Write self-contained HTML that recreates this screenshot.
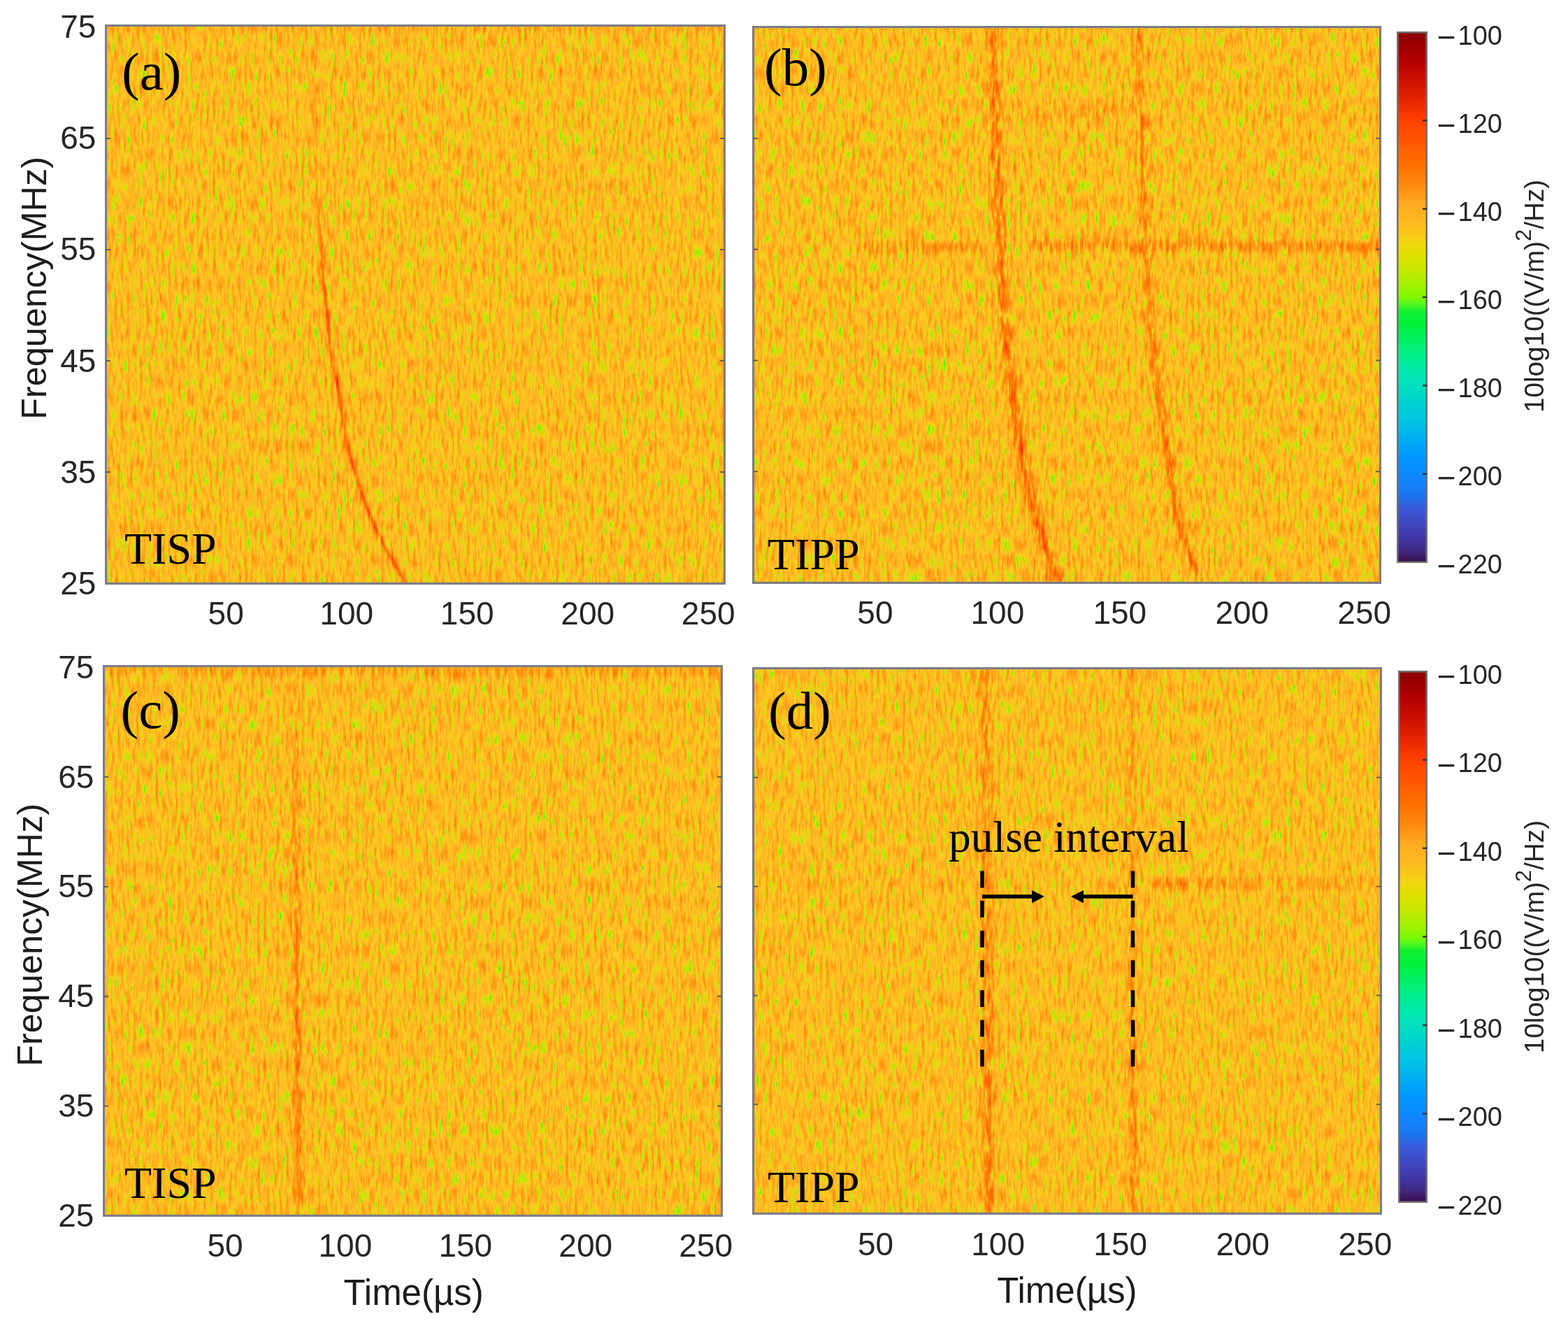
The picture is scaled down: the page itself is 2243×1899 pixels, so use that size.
<!DOCTYPE html>
<html><head><meta charset="utf-8"><title>Spectrograms</title>
<style>
html,body{margin:0;padding:0;background:#fff;}
body{width:2243px;height:1899px;overflow:hidden;position:relative;}
svg{position:absolute;left:0;top:0;display:block;}
.tk{font-family:"Liberation Sans",Arial,sans-serif;font-size:46px;fill:#262626;}
.cb{font-family:"Liberation Sans",Arial,sans-serif;font-size:38px;fill:#262626;}
.cb .mn{font-size:46px;}
.al{font-family:"Liberation Sans",Arial,sans-serif;font-size:50.5px;fill:#1c1c1c;}
.at{font-size:51px;}
.cl{font-family:"Liberation Sans",Arial,sans-serif;font-size:38.7px;fill:#262626;}
.pl{font-family:"Liberation Serif","Times New Roman",serif;font-size:77px;fill:#000;}
.tl{font-family:"Liberation Serif","Times New Roman",serif;font-size:64px;fill:#000;}
.pi{font-size:63.5px;}
</style></head><body>
<svg width="2243" height="1899" viewBox="0 0 2243 1899">
<defs>
<filter id="b15" filterUnits="userSpaceOnUse" x="0" y="0" width="2243" height="1899" color-interpolation-filters="sRGB"><feGaussianBlur stdDeviation="1.5"/></filter>
<filter id="b2" filterUnits="userSpaceOnUse" x="0" y="0" width="2243" height="1899" color-interpolation-filters="sRGB"><feGaussianBlur stdDeviation="2"/></filter>
<filter id="b3" filterUnits="userSpaceOnUse" x="0" y="0" width="2243" height="1899" color-interpolation-filters="sRGB"><feGaussianBlur stdDeviation="3"/></filter>
<filter id="b4" filterUnits="userSpaceOnUse" x="0" y="0" width="2243" height="1899" color-interpolation-filters="sRGB"><feGaussianBlur stdDeviation="4"/></filter>
<filter id="b25" filterUnits="userSpaceOnUse" x="0" y="0" width="2243" height="1899" color-interpolation-filters="sRGB"><feGaussianBlur stdDeviation="2.5"/></filter>
<filter id="b5" filterUnits="userSpaceOnUse" x="0" y="0" width="2243" height="1899" color-interpolation-filters="sRGB"><feGaussianBlur stdDeviation="5"/></filter>
<filter id="fa" filterUnits="userSpaceOnUse" x="150" y="35" width="888" height="801" color-interpolation-filters="sRGB">
<feTurbulence type="fractalNoise" baseFrequency="0.22 0.043" numOctaves="3" seed="3" result="n0"/>
<feColorMatrix in="n0" type="matrix" values="1 0 0 0 0 1 0 0 0 0 1 0 0 0 0 0 0 0 0 1" result="n1"/>
<feComponentTransfer in="n1" result="u"><feFuncR type="table" tableValues="0.1583 0.1583 0.1583 0.1583 0.1583 0.1583 0.1583 0.1583 0.1583 0.1583 0.1583 0.1583 0.1726 0.1964 0.2193 0.2412 0.2622 0.2823 0.3014 0.3197 0.3372 0.3538 0.3696 0.3847 0.3990 0.4127 0.4257 0.4381 0.4499 0.4611 0.4719 0.4821 0.4910 0.4990 0.5071 0.5151 0.5232 0.5312 0.5393 0.5473 0.5553 0.5634 0.5714 0.5795 0.5875 0.5956 0.6036 0.6116 0.6197 0.6277 0.6358 0.6438 0.6519 0.6599 0.6679 0.6760 0.6840 0.6921 0.7001 0.7082 0.7162 0.7242 0.7323 0.7403"/><feFuncG type="table" tableValues="0.1583 0.1583 0.1583 0.1583 0.1583 0.1583 0.1583 0.1583 0.1583 0.1583 0.1583 0.1583 0.1726 0.1964 0.2193 0.2412 0.2622 0.2823 0.3014 0.3197 0.3372 0.3538 0.3696 0.3847 0.3990 0.4127 0.4257 0.4381 0.4499 0.4611 0.4719 0.4821 0.4910 0.4990 0.5071 0.5151 0.5232 0.5312 0.5393 0.5473 0.5553 0.5634 0.5714 0.5795 0.5875 0.5956 0.6036 0.6116 0.6197 0.6277 0.6358 0.6438 0.6519 0.6599 0.6679 0.6760 0.6840 0.6921 0.7001 0.7082 0.7162 0.7242 0.7323 0.7403"/><feFuncB type="table" tableValues="0.1583 0.1583 0.1583 0.1583 0.1583 0.1583 0.1583 0.1583 0.1583 0.1583 0.1583 0.1583 0.1726 0.1964 0.2193 0.2412 0.2622 0.2823 0.3014 0.3197 0.3372 0.3538 0.3696 0.3847 0.3990 0.4127 0.4257 0.4381 0.4499 0.4611 0.4719 0.4821 0.4910 0.4990 0.5071 0.5151 0.5232 0.5312 0.5393 0.5473 0.5553 0.5634 0.5714 0.5795 0.5875 0.5956 0.6036 0.6116 0.6197 0.6277 0.6358 0.6438 0.6519 0.6599 0.6679 0.6760 0.6840 0.6921 0.7001 0.7082 0.7162 0.7242 0.7323 0.7403"/></feComponentTransfer>
<feComposite in="u" in2="SourceGraphic" operator="arithmetic" k1="0" k2="1" k3="1.0" k4="0" result="v"/>
<feComponentTransfer in="v"><feFuncR type="table" tableValues="0.0000 0.0000 0.0000 0.0000 0.0000 0.0224 0.0448 0.2196 0.4034 0.4370 0.4706 0.5145 0.5584 0.6024 0.6463 0.6902 0.7263 0.7624 0.7984 0.8345 0.8706 0.8941 0.9176 0.9412 0.9647 0.9882 0.9906 0.9929 0.9953 0.9976 1.0000 1.0000 1.0000 1.0000 1.0000 1.0000 1.0000 1.0000 1.0000 1.0000 1.0000 1.0000 1.0000 1.0000 1.0000 1.0000 1.0000 1.0000 1.0000 1.0000 1.0000 0.9867 0.9733 0.9600 0.9467 0.9333 0.9067 0.8800 0.8533 0.8267 0.8000"/><feFuncG type="table" tableValues="0.8993 0.9059 0.9124 0.9190 0.9255 0.9283 0.9311 0.9373 0.9412 0.9412 0.9412 0.9380 0.9349 0.9318 0.9286 0.9255 0.9129 0.9004 0.8878 0.8753 0.8627 0.8502 0.8376 0.8251 0.8125 0.8000 0.7843 0.7686 0.7529 0.7373 0.7216 0.7027 0.6839 0.6651 0.6463 0.6275 0.6055 0.5835 0.5616 0.5396 0.5176 0.4925 0.4675 0.4424 0.4173 0.3922 0.3655 0.3388 0.3122 0.2855 0.2588 0.2384 0.2180 0.1976 0.1773 0.1569 0.1380 0.1192 0.1004 0.0816 0.0627"/><feFuncB type="table" tableValues="0.4601 0.4235 0.3869 0.3503 0.3137 0.2717 0.2297 0.0980 0.0000 0.0000 0.0000 0.0000 0.0000 0.0000 0.0000 0.0000 0.0078 0.0157 0.0235 0.0314 0.0392 0.0580 0.0769 0.0957 0.1145 0.1333 0.1349 0.1365 0.1380 0.1396 0.1412 0.1302 0.1192 0.1082 0.0973 0.0863 0.0769 0.0675 0.0580 0.0486 0.0392 0.0314 0.0235 0.0157 0.0078 0.0000 0.0000 0.0000 0.0000 0.0000 0.0000 0.0000 0.0000 0.0000 0.0000 0.0000 0.0000 0.0000 0.0000 0.0000 0.0000"/><feFuncA type="linear" slope="0" intercept="1"/></feComponentTransfer>
</filter>
<filter id="fb" filterUnits="userSpaceOnUse" x="1076" y="37" width="900" height="798" color-interpolation-filters="sRGB">
<feTurbulence type="fractalNoise" baseFrequency="0.22 0.043" numOctaves="3" seed="11" result="n0"/>
<feColorMatrix in="n0" type="matrix" values="1 0 0 0 0 1 0 0 0 0 1 0 0 0 0 0 0 0 0 1" result="n1"/>
<feComponentTransfer in="n1" result="u"><feFuncR type="table" tableValues="0.1583 0.1583 0.1583 0.1583 0.1583 0.1583 0.1583 0.1583 0.1583 0.1583 0.1583 0.1583 0.1726 0.1964 0.2193 0.2412 0.2622 0.2823 0.3014 0.3197 0.3372 0.3538 0.3696 0.3847 0.3990 0.4127 0.4257 0.4381 0.4499 0.4611 0.4719 0.4821 0.4910 0.4990 0.5071 0.5151 0.5232 0.5312 0.5393 0.5473 0.5553 0.5634 0.5714 0.5795 0.5875 0.5956 0.6036 0.6116 0.6197 0.6277 0.6358 0.6438 0.6519 0.6599 0.6679 0.6760 0.6840 0.6921 0.7001 0.7082 0.7162 0.7242 0.7323 0.7403"/><feFuncG type="table" tableValues="0.1583 0.1583 0.1583 0.1583 0.1583 0.1583 0.1583 0.1583 0.1583 0.1583 0.1583 0.1583 0.1726 0.1964 0.2193 0.2412 0.2622 0.2823 0.3014 0.3197 0.3372 0.3538 0.3696 0.3847 0.3990 0.4127 0.4257 0.4381 0.4499 0.4611 0.4719 0.4821 0.4910 0.4990 0.5071 0.5151 0.5232 0.5312 0.5393 0.5473 0.5553 0.5634 0.5714 0.5795 0.5875 0.5956 0.6036 0.6116 0.6197 0.6277 0.6358 0.6438 0.6519 0.6599 0.6679 0.6760 0.6840 0.6921 0.7001 0.7082 0.7162 0.7242 0.7323 0.7403"/><feFuncB type="table" tableValues="0.1583 0.1583 0.1583 0.1583 0.1583 0.1583 0.1583 0.1583 0.1583 0.1583 0.1583 0.1583 0.1726 0.1964 0.2193 0.2412 0.2622 0.2823 0.3014 0.3197 0.3372 0.3538 0.3696 0.3847 0.3990 0.4127 0.4257 0.4381 0.4499 0.4611 0.4719 0.4821 0.4910 0.4990 0.5071 0.5151 0.5232 0.5312 0.5393 0.5473 0.5553 0.5634 0.5714 0.5795 0.5875 0.5956 0.6036 0.6116 0.6197 0.6277 0.6358 0.6438 0.6519 0.6599 0.6679 0.6760 0.6840 0.6921 0.7001 0.7082 0.7162 0.7242 0.7323 0.7403"/></feComponentTransfer>
<feComposite in="u" in2="SourceGraphic" operator="arithmetic" k1="0" k2="1" k3="1.0" k4="0" result="v"/>
<feComponentTransfer in="v"><feFuncR type="table" tableValues="0.0000 0.0000 0.0000 0.0000 0.0000 0.0224 0.0448 0.2196 0.4034 0.4370 0.4706 0.5145 0.5584 0.6024 0.6463 0.6902 0.7263 0.7624 0.7984 0.8345 0.8706 0.8941 0.9176 0.9412 0.9647 0.9882 0.9906 0.9929 0.9953 0.9976 1.0000 1.0000 1.0000 1.0000 1.0000 1.0000 1.0000 1.0000 1.0000 1.0000 1.0000 1.0000 1.0000 1.0000 1.0000 1.0000 1.0000 1.0000 1.0000 1.0000 1.0000 0.9867 0.9733 0.9600 0.9467 0.9333 0.9067 0.8800 0.8533 0.8267 0.8000"/><feFuncG type="table" tableValues="0.8993 0.9059 0.9124 0.9190 0.9255 0.9283 0.9311 0.9373 0.9412 0.9412 0.9412 0.9380 0.9349 0.9318 0.9286 0.9255 0.9129 0.9004 0.8878 0.8753 0.8627 0.8502 0.8376 0.8251 0.8125 0.8000 0.7843 0.7686 0.7529 0.7373 0.7216 0.7027 0.6839 0.6651 0.6463 0.6275 0.6055 0.5835 0.5616 0.5396 0.5176 0.4925 0.4675 0.4424 0.4173 0.3922 0.3655 0.3388 0.3122 0.2855 0.2588 0.2384 0.2180 0.1976 0.1773 0.1569 0.1380 0.1192 0.1004 0.0816 0.0627"/><feFuncB type="table" tableValues="0.4601 0.4235 0.3869 0.3503 0.3137 0.2717 0.2297 0.0980 0.0000 0.0000 0.0000 0.0000 0.0000 0.0000 0.0000 0.0000 0.0078 0.0157 0.0235 0.0314 0.0392 0.0580 0.0769 0.0957 0.1145 0.1333 0.1349 0.1365 0.1380 0.1396 0.1412 0.1302 0.1192 0.1082 0.0973 0.0863 0.0769 0.0675 0.0580 0.0486 0.0392 0.0314 0.0235 0.0157 0.0078 0.0000 0.0000 0.0000 0.0000 0.0000 0.0000 0.0000 0.0000 0.0000 0.0000 0.0000 0.0000 0.0000 0.0000 0.0000 0.0000"/><feFuncA type="linear" slope="0" intercept="1"/></feComponentTransfer>
</filter>
<filter id="fc" filterUnits="userSpaceOnUse" x="147" y="951" width="887" height="789" color-interpolation-filters="sRGB">
<feTurbulence type="fractalNoise" baseFrequency="0.22 0.043" numOctaves="3" seed="17" result="n0"/>
<feColorMatrix in="n0" type="matrix" values="1 0 0 0 0 1 0 0 0 0 1 0 0 0 0 0 0 0 0 1" result="n1"/>
<feComponentTransfer in="n1" result="u"><feFuncR type="table" tableValues="0.1583 0.1583 0.1583 0.1583 0.1583 0.1583 0.1583 0.1583 0.1583 0.1583 0.1583 0.1583 0.1726 0.1964 0.2193 0.2412 0.2622 0.2823 0.3014 0.3197 0.3372 0.3538 0.3696 0.3847 0.3990 0.4127 0.4257 0.4381 0.4499 0.4611 0.4719 0.4821 0.4910 0.4990 0.5071 0.5151 0.5232 0.5312 0.5393 0.5473 0.5553 0.5634 0.5714 0.5795 0.5875 0.5956 0.6036 0.6116 0.6197 0.6277 0.6358 0.6438 0.6519 0.6599 0.6679 0.6760 0.6840 0.6921 0.7001 0.7082 0.7162 0.7242 0.7323 0.7403"/><feFuncG type="table" tableValues="0.1583 0.1583 0.1583 0.1583 0.1583 0.1583 0.1583 0.1583 0.1583 0.1583 0.1583 0.1583 0.1726 0.1964 0.2193 0.2412 0.2622 0.2823 0.3014 0.3197 0.3372 0.3538 0.3696 0.3847 0.3990 0.4127 0.4257 0.4381 0.4499 0.4611 0.4719 0.4821 0.4910 0.4990 0.5071 0.5151 0.5232 0.5312 0.5393 0.5473 0.5553 0.5634 0.5714 0.5795 0.5875 0.5956 0.6036 0.6116 0.6197 0.6277 0.6358 0.6438 0.6519 0.6599 0.6679 0.6760 0.6840 0.6921 0.7001 0.7082 0.7162 0.7242 0.7323 0.7403"/><feFuncB type="table" tableValues="0.1583 0.1583 0.1583 0.1583 0.1583 0.1583 0.1583 0.1583 0.1583 0.1583 0.1583 0.1583 0.1726 0.1964 0.2193 0.2412 0.2622 0.2823 0.3014 0.3197 0.3372 0.3538 0.3696 0.3847 0.3990 0.4127 0.4257 0.4381 0.4499 0.4611 0.4719 0.4821 0.4910 0.4990 0.5071 0.5151 0.5232 0.5312 0.5393 0.5473 0.5553 0.5634 0.5714 0.5795 0.5875 0.5956 0.6036 0.6116 0.6197 0.6277 0.6358 0.6438 0.6519 0.6599 0.6679 0.6760 0.6840 0.6921 0.7001 0.7082 0.7162 0.7242 0.7323 0.7403"/></feComponentTransfer>
<feComposite in="u" in2="SourceGraphic" operator="arithmetic" k1="0" k2="1" k3="1.0" k4="0" result="v"/>
<feComponentTransfer in="v"><feFuncR type="table" tableValues="0.0000 0.0000 0.0000 0.0000 0.0000 0.0224 0.0448 0.2196 0.4034 0.4370 0.4706 0.5145 0.5584 0.6024 0.6463 0.6902 0.7263 0.7624 0.7984 0.8345 0.8706 0.8941 0.9176 0.9412 0.9647 0.9882 0.9906 0.9929 0.9953 0.9976 1.0000 1.0000 1.0000 1.0000 1.0000 1.0000 1.0000 1.0000 1.0000 1.0000 1.0000 1.0000 1.0000 1.0000 1.0000 1.0000 1.0000 1.0000 1.0000 1.0000 1.0000 0.9867 0.9733 0.9600 0.9467 0.9333 0.9067 0.8800 0.8533 0.8267 0.8000"/><feFuncG type="table" tableValues="0.8993 0.9059 0.9124 0.9190 0.9255 0.9283 0.9311 0.9373 0.9412 0.9412 0.9412 0.9380 0.9349 0.9318 0.9286 0.9255 0.9129 0.9004 0.8878 0.8753 0.8627 0.8502 0.8376 0.8251 0.8125 0.8000 0.7843 0.7686 0.7529 0.7373 0.7216 0.7027 0.6839 0.6651 0.6463 0.6275 0.6055 0.5835 0.5616 0.5396 0.5176 0.4925 0.4675 0.4424 0.4173 0.3922 0.3655 0.3388 0.3122 0.2855 0.2588 0.2384 0.2180 0.1976 0.1773 0.1569 0.1380 0.1192 0.1004 0.0816 0.0627"/><feFuncB type="table" tableValues="0.4601 0.4235 0.3869 0.3503 0.3137 0.2717 0.2297 0.0980 0.0000 0.0000 0.0000 0.0000 0.0000 0.0000 0.0000 0.0000 0.0078 0.0157 0.0235 0.0314 0.0392 0.0580 0.0769 0.0957 0.1145 0.1333 0.1349 0.1365 0.1380 0.1396 0.1412 0.1302 0.1192 0.1082 0.0973 0.0863 0.0769 0.0675 0.0580 0.0486 0.0392 0.0314 0.0235 0.0157 0.0078 0.0000 0.0000 0.0000 0.0000 0.0000 0.0000 0.0000 0.0000 0.0000 0.0000 0.0000 0.0000 0.0000 0.0000 0.0000 0.0000"/><feFuncA type="linear" slope="0" intercept="1"/></feComponentTransfer>
</filter>
<filter id="fd" filterUnits="userSpaceOnUse" x="1076" y="954" width="901" height="783" color-interpolation-filters="sRGB">
<feTurbulence type="fractalNoise" baseFrequency="0.22 0.043" numOctaves="3" seed="29" result="n0"/>
<feColorMatrix in="n0" type="matrix" values="1 0 0 0 0 1 0 0 0 0 1 0 0 0 0 0 0 0 0 1" result="n1"/>
<feComponentTransfer in="n1" result="u"><feFuncR type="table" tableValues="0.1583 0.1583 0.1583 0.1583 0.1583 0.1583 0.1583 0.1583 0.1583 0.1583 0.1583 0.1583 0.1726 0.1964 0.2193 0.2412 0.2622 0.2823 0.3014 0.3197 0.3372 0.3538 0.3696 0.3847 0.3990 0.4127 0.4257 0.4381 0.4499 0.4611 0.4719 0.4821 0.4910 0.4990 0.5071 0.5151 0.5232 0.5312 0.5393 0.5473 0.5553 0.5634 0.5714 0.5795 0.5875 0.5956 0.6036 0.6116 0.6197 0.6277 0.6358 0.6438 0.6519 0.6599 0.6679 0.6760 0.6840 0.6921 0.7001 0.7082 0.7162 0.7242 0.7323 0.7403"/><feFuncG type="table" tableValues="0.1583 0.1583 0.1583 0.1583 0.1583 0.1583 0.1583 0.1583 0.1583 0.1583 0.1583 0.1583 0.1726 0.1964 0.2193 0.2412 0.2622 0.2823 0.3014 0.3197 0.3372 0.3538 0.3696 0.3847 0.3990 0.4127 0.4257 0.4381 0.4499 0.4611 0.4719 0.4821 0.4910 0.4990 0.5071 0.5151 0.5232 0.5312 0.5393 0.5473 0.5553 0.5634 0.5714 0.5795 0.5875 0.5956 0.6036 0.6116 0.6197 0.6277 0.6358 0.6438 0.6519 0.6599 0.6679 0.6760 0.6840 0.6921 0.7001 0.7082 0.7162 0.7242 0.7323 0.7403"/><feFuncB type="table" tableValues="0.1583 0.1583 0.1583 0.1583 0.1583 0.1583 0.1583 0.1583 0.1583 0.1583 0.1583 0.1583 0.1726 0.1964 0.2193 0.2412 0.2622 0.2823 0.3014 0.3197 0.3372 0.3538 0.3696 0.3847 0.3990 0.4127 0.4257 0.4381 0.4499 0.4611 0.4719 0.4821 0.4910 0.4990 0.5071 0.5151 0.5232 0.5312 0.5393 0.5473 0.5553 0.5634 0.5714 0.5795 0.5875 0.5956 0.6036 0.6116 0.6197 0.6277 0.6358 0.6438 0.6519 0.6599 0.6679 0.6760 0.6840 0.6921 0.7001 0.7082 0.7162 0.7242 0.7323 0.7403"/></feComponentTransfer>
<feComposite in="u" in2="SourceGraphic" operator="arithmetic" k1="0" k2="1" k3="1.0" k4="0" result="v"/>
<feComponentTransfer in="v"><feFuncR type="table" tableValues="0.0000 0.0000 0.0000 0.0000 0.0000 0.0224 0.0448 0.2196 0.4034 0.4370 0.4706 0.5145 0.5584 0.6024 0.6463 0.6902 0.7263 0.7624 0.7984 0.8345 0.8706 0.8941 0.9176 0.9412 0.9647 0.9882 0.9906 0.9929 0.9953 0.9976 1.0000 1.0000 1.0000 1.0000 1.0000 1.0000 1.0000 1.0000 1.0000 1.0000 1.0000 1.0000 1.0000 1.0000 1.0000 1.0000 1.0000 1.0000 1.0000 1.0000 1.0000 0.9867 0.9733 0.9600 0.9467 0.9333 0.9067 0.8800 0.8533 0.8267 0.8000"/><feFuncG type="table" tableValues="0.8993 0.9059 0.9124 0.9190 0.9255 0.9283 0.9311 0.9373 0.9412 0.9412 0.9412 0.9380 0.9349 0.9318 0.9286 0.9255 0.9129 0.9004 0.8878 0.8753 0.8627 0.8502 0.8376 0.8251 0.8125 0.8000 0.7843 0.7686 0.7529 0.7373 0.7216 0.7027 0.6839 0.6651 0.6463 0.6275 0.6055 0.5835 0.5616 0.5396 0.5176 0.4925 0.4675 0.4424 0.4173 0.3922 0.3655 0.3388 0.3122 0.2855 0.2588 0.2384 0.2180 0.1976 0.1773 0.1569 0.1380 0.1192 0.1004 0.0816 0.0627"/><feFuncB type="table" tableValues="0.4601 0.4235 0.3869 0.3503 0.3137 0.2717 0.2297 0.0980 0.0000 0.0000 0.0000 0.0000 0.0000 0.0000 0.0000 0.0000 0.0078 0.0157 0.0235 0.0314 0.0392 0.0580 0.0769 0.0957 0.1145 0.1333 0.1349 0.1365 0.1380 0.1396 0.1412 0.1302 0.1192 0.1082 0.0973 0.0863 0.0769 0.0675 0.0580 0.0486 0.0392 0.0314 0.0235 0.0157 0.0078 0.0000 0.0000 0.0000 0.0000 0.0000 0.0000 0.0000 0.0000 0.0000 0.0000 0.0000 0.0000 0.0000 0.0000 0.0000 0.0000"/><feFuncA type="linear" slope="0" intercept="1"/></feComponentTransfer>
</filter>
<linearGradient id="cbg" x1="0" y1="0" x2="0" y2="1"><stop offset="0.0000" stop-color="rgb(136,0,0)"/><stop offset="0.0500" stop-color="rgb(176,0,0)"/><stop offset="0.0917" stop-color="rgb(204,16,0)"/><stop offset="0.1333" stop-color="rgb(232,40,0)"/><stop offset="0.1667" stop-color="rgb(255,64,0)"/><stop offset="0.2083" stop-color="rgb(255,88,0)"/><stop offset="0.2500" stop-color="rgb(255,112,0)"/><stop offset="0.2917" stop-color="rgb(255,140,16)"/><stop offset="0.3225" stop-color="rgb(255,168,32)"/><stop offset="0.3550" stop-color="rgb(255,184,32)"/><stop offset="0.3817" stop-color="rgb(248,200,24)"/><stop offset="0.4017" stop-color="rgb(240,216,16)"/><stop offset="0.4208" stop-color="rgb(224,224,0)"/><stop offset="0.4475" stop-color="rgb(200,232,0)"/><stop offset="0.4742" stop-color="rgb(168,240,0)"/><stop offset="0.5000" stop-color="rgb(128,248,0)"/><stop offset="0.5133" stop-color="rgb(80,248,32)"/><stop offset="0.5267" stop-color="rgb(16,240,48)"/><stop offset="0.5500" stop-color="rgb(0,240,56)"/><stop offset="0.6000" stop-color="rgb(0,240,128)"/><stop offset="0.6417" stop-color="rgb(0,232,176)"/><stop offset="0.6833" stop-color="rgb(0,216,200)"/><stop offset="0.7250" stop-color="rgb(0,200,224)"/><stop offset="0.7625" stop-color="rgb(0,176,240)"/><stop offset="0.8000" stop-color="rgb(0,152,255)"/><stop offset="0.8333" stop-color="rgb(16,136,255)"/><stop offset="0.8708" stop-color="rgb(26,120,240)"/><stop offset="0.8975" stop-color="rgb(58,88,216)"/><stop offset="0.9250" stop-color="rgb(64,72,192)"/><stop offset="0.9500" stop-color="rgb(64,56,168)"/><stop offset="0.9783" stop-color="rgb(64,40,128)"/><stop offset="0.9917" stop-color="rgb(60,20,90)"/><stop offset="1.0000" stop-color="rgb(52,10,64)"/></linearGradient>
<linearGradient id="ga2" gradientUnits="userSpaceOnUse" x1="0" y1="37" x2="0" y2="834"><stop offset="0.000" stop-color="#050505"/><stop offset="0.330" stop-color="#080808"/><stop offset="0.518" stop-color="#0f0f0f"/><stop offset="1.000" stop-color="#121212"/></linearGradient><linearGradient id="ga1" gradientUnits="userSpaceOnUse" x1="0" y1="37" x2="0" y2="834"><stop offset="0.000" stop-color="#0d0d0d"/><stop offset="0.292" stop-color="#121212"/><stop offset="0.380" stop-color="#303030"/><stop offset="0.518" stop-color="#404040"/><stop offset="0.832" stop-color="#454545"/><stop offset="1.000" stop-color="#3b3b3b"/></linearGradient><linearGradient id="gb1h" gradientUnits="userSpaceOnUse" x1="0" y1="39" x2="0" y2="833"><stop offset="0.000" stop-color="#141414"/><stop offset="0.455" stop-color="#141414"/><stop offset="1.000" stop-color="#1c1c1c"/></linearGradient><linearGradient id="gb1" gradientUnits="userSpaceOnUse" x1="0" y1="39" x2="0" y2="833"><stop offset="0.000" stop-color="#333333"/><stop offset="0.455" stop-color="#333333"/><stop offset="0.707" stop-color="#404040"/><stop offset="1.000" stop-color="#424242"/></linearGradient><linearGradient id="gb2h" gradientUnits="userSpaceOnUse" x1="0" y1="39" x2="0" y2="833"><stop offset="0.000" stop-color="#0f0f0f"/><stop offset="1.000" stop-color="#171717"/></linearGradient><linearGradient id="gb2" gradientUnits="userSpaceOnUse" x1="0" y1="39" x2="0" y2="833"><stop offset="0.000" stop-color="#262626"/><stop offset="0.455" stop-color="#292929"/><stop offset="0.707" stop-color="#363636"/><stop offset="1.000" stop-color="#3b3b3b"/></linearGradient><linearGradient id="gc1h" gradientUnits="userSpaceOnUse" x1="0" y1="953" x2="0" y2="1738"><stop offset="0.000" stop-color="#080808"/><stop offset="1.000" stop-color="#0f0f0f"/></linearGradient><linearGradient id="gc1" gradientUnits="userSpaceOnUse" x1="0" y1="953" x2="0" y2="1738"><stop offset="0.000" stop-color="#0f0f0f"/><stop offset="0.251" stop-color="#1a1a1a"/><stop offset="0.442" stop-color="#292929"/><stop offset="0.761" stop-color="#303030"/><stop offset="1.000" stop-color="#292929"/></linearGradient><linearGradient id="gd1h" gradientUnits="userSpaceOnUse" x1="0" y1="956" x2="0" y2="1735"><stop offset="0.000" stop-color="#0d0d0d"/><stop offset="1.000" stop-color="#121212"/></linearGradient><linearGradient id="gd1" gradientUnits="userSpaceOnUse" x1="0" y1="956" x2="0" y2="1735"><stop offset="0.000" stop-color="#212121"/><stop offset="0.442" stop-color="#242424"/><stop offset="0.763" stop-color="#2e2e2e"/><stop offset="1.000" stop-color="#303030"/></linearGradient><linearGradient id="gd2h" gradientUnits="userSpaceOnUse" x1="0" y1="956" x2="0" y2="1735"><stop offset="0.000" stop-color="#0a0a0a"/><stop offset="1.000" stop-color="#0f0f0f"/></linearGradient><linearGradient id="gd2" gradientUnits="userSpaceOnUse" x1="0" y1="956" x2="0" y2="1735"><stop offset="0.000" stop-color="#171717"/><stop offset="0.506" stop-color="#1a1a1a"/><stop offset="0.698" stop-color="#292929"/><stop offset="1.000" stop-color="#2b2b2b"/></linearGradient>
</defs>
<rect width="2243" height="1899" fill="#fff"/>
<g filter="url(#fa)">
<rect x="150" y="35" width="888" height="801" fill="#000"/>
<rect x="150" y="36" width="888" height="11" fill="#0d0d0d" filter="url(#b3)"/>
<path d="M445.0 37.0 C446.2 59.3 450.1 126.0 452.0 171.0 C453.9 216.0 454.7 269.2 456.5 307.0 C458.3 344.8 460.4 367.7 463.0 398.0 C465.6 428.3 468.5 462.5 472.0 489.0 C475.5 515.5 479.3 530.5 484.0 557.0 C488.7 583.5 495.2 625.3 500.0 648.0 C504.8 670.7 507.0 675.7 513.0 693.0 C519.0 710.3 528.3 734.5 536.0 752.0 C543.7 769.5 551.5 784.3 559.0 798.0 C566.5 811.7 577.3 828.0 581.0 834.0" fill="none" stroke="url(#ga2)" stroke-width="12" filter="url(#b4)"/>
<path d="M445.0 37.0 C446.2 59.3 450.1 126.0 452.0 171.0 C453.9 216.0 454.7 269.2 456.5 307.0 C458.3 344.8 460.4 367.7 463.0 398.0 C465.6 428.3 468.5 462.5 472.0 489.0 C475.5 515.5 479.3 530.5 484.0 557.0 C488.7 583.5 495.2 625.3 500.0 648.0 C504.8 670.7 507.0 675.7 513.0 693.0 C519.0 710.3 528.3 734.5 536.0 752.0 C543.7 769.5 551.5 784.3 559.0 798.0 C566.5 811.7 577.3 828.0 581.0 834.0" fill="none" stroke="url(#ga1)" stroke-width="5" filter="url(#b15)"/>
</g>
<g filter="url(#fb)">
<rect x="1076" y="37" width="900" height="798" fill="#000"/>
<path d="M1420.0 39.0 C1420.7 61.2 1422.5 127.2 1424.0 172.0 C1425.5 216.8 1427.4 270.2 1429.0 308.0 C1430.6 345.8 1431.7 368.8 1433.5 399.0 C1435.3 429.2 1437.0 458.8 1440.0 489.0 C1443.0 519.2 1447.4 549.8 1451.6 580.0 C1455.8 610.2 1459.8 642.8 1465.0 670.0 C1470.2 697.2 1477.0 721.8 1483.0 743.0 C1489.0 764.2 1496.0 782.0 1501.0 797.0 C1506.0 812.0 1511.0 827.0 1513.0 833.0" fill="none" stroke="url(#gb1h)" stroke-width="22" filter="url(#b5)"/>
<path d="M1420.0 39.0 C1420.7 61.2 1422.5 127.2 1424.0 172.0 C1425.5 216.8 1427.4 270.2 1429.0 308.0 C1430.6 345.8 1431.7 368.8 1433.5 399.0 C1435.3 429.2 1437.0 458.8 1440.0 489.0 C1443.0 519.2 1447.4 549.8 1451.6 580.0 C1455.8 610.2 1459.8 642.8 1465.0 670.0 C1470.2 697.2 1477.0 721.8 1483.0 743.0 C1489.0 764.2 1496.0 782.0 1501.0 797.0 C1506.0 812.0 1511.0 827.0 1513.0 833.0" fill="none" stroke="url(#gb1)" stroke-width="9" filter="url(#b3)"/>
<path d="M1628.0 39.0 C1628.8 61.2 1631.1 127.2 1632.6 172.0 C1634.1 216.8 1635.5 270.2 1637.0 308.0 C1638.5 345.8 1639.7 368.8 1641.6 399.0 C1643.5 429.2 1645.4 458.8 1648.4 489.0 C1651.4 519.2 1655.6 549.8 1659.7 580.0 C1663.8 610.2 1668.4 639.8 1673.3 670.0 C1678.2 700.2 1683.7 739.3 1689.0 761.0 C1694.3 782.7 1700.7 788.0 1705.0 800.0 C1709.3 812.0 1713.3 827.5 1715.0 833.0" fill="none" stroke="url(#gb2h)" stroke-width="18" filter="url(#b5)"/>
<path d="M1628.0 39.0 C1628.8 61.2 1631.1 127.2 1632.6 172.0 C1634.1 216.8 1635.5 270.2 1637.0 308.0 C1638.5 345.8 1639.7 368.8 1641.6 399.0 C1643.5 429.2 1645.4 458.8 1648.4 489.0 C1651.4 519.2 1655.6 549.8 1659.7 580.0 C1663.8 610.2 1668.4 639.8 1673.3 670.0 C1678.2 700.2 1683.7 739.3 1689.0 761.0 C1694.3 782.7 1700.7 788.0 1705.0 800.0 C1709.3 812.0 1713.3 827.5 1715.0 833.0" fill="none" stroke="url(#gb2)" stroke-width="7" filter="url(#b25)"/>
<rect x="1232" y="345" width="175" height="15" fill="#1c1c1c" filter="url(#b3)"/>
<rect x="1253" y="345" width="45" height="15" fill="#0d0d0d" filter="url(#b3)"/>
<rect x="1471" y="344" width="505" height="16" fill="#212121" filter="url(#b3)"/>
<rect x="1464" y="152" width="146" height="20" fill="#0f0f0f" filter="url(#b4)"/>
<rect x="1795" y="152" width="131" height="20" fill="#0a0a0a" filter="url(#b4)"/>
<rect x="1219" y="39" width="7" height="794" fill="#0d0d0d" filter="url(#b3)"/>
</g>
<g filter="url(#fc)">
<rect x="147" y="951" width="887" height="789" fill="#000"/>
<path d="M421.0 953.0 C421.3 994.2 422.3 1117.2 423.0 1200.0 C423.7 1282.8 424.2 1360.3 425.0 1450.0 C425.8 1539.7 427.5 1690.0 428.0 1738.0" fill="none" stroke="url(#gc1h)" stroke-width="18" filter="url(#b5)"/>
<path d="M421.0 953.0 C421.3 994.2 422.3 1117.2 423.0 1200.0 C423.7 1282.8 424.2 1360.3 425.0 1450.0 C425.8 1539.7 427.5 1690.0 428.0 1738.0" fill="none" stroke="url(#gc1)" stroke-width="8" filter="url(#b25)"/>
<rect x="147" y="951" width="887" height="16" fill="#121212" filter="url(#b3)"/>
</g>
<g filter="url(#fd)">
<rect x="1076" y="954" width="901" height="783" fill="#000"/>
<path d="M1408.0 956.0 C1408.5 996.7 1410.2 1117.7 1411.0 1200.0 C1411.8 1282.3 1412.4 1360.8 1413.0 1450.0 C1413.6 1539.2 1414.2 1687.5 1414.5 1735.0" fill="none" stroke="url(#gd1h)" stroke-width="22" filter="url(#b5)"/>
<path d="M1408.0 956.0 C1408.5 996.7 1410.2 1117.7 1411.0 1200.0 C1411.8 1282.3 1412.4 1360.8 1413.0 1450.0 C1413.6 1539.2 1414.2 1687.5 1414.5 1735.0" fill="none" stroke="url(#gd1)" stroke-width="10" filter="url(#b3)"/>
<path d="M1618.5 956.0 C1618.7 996.7 1619.2 1117.7 1619.5 1200.0 C1619.8 1282.3 1620.2 1360.8 1620.5 1450.0 C1620.8 1539.2 1620.9 1687.5 1621.0 1735.0" fill="none" stroke="url(#gd2h)" stroke-width="16" filter="url(#b5)"/>
<path d="M1618.5 956.0 C1618.7 996.7 1619.2 1117.7 1619.5 1200.0 C1619.8 1282.3 1620.2 1360.8 1620.5 1450.0 C1620.8 1539.2 1620.9 1687.5 1621.0 1735.0" fill="none" stroke="url(#gd2)" stroke-width="7" filter="url(#b25)"/>
<rect x="1646" y="1255" width="331" height="16" fill="#1a1a1a" filter="url(#b3)"/>
<rect x="1772" y="1255" width="205" height="16" fill="#0d0d0d" filter="url(#b3)"/>
<rect x="1100" y="1256" width="295" height="14" fill="#0a0a0a" filter="url(#b3)"/>
</g>
<rect x="151.6" y="36.6" width="884.8" height="797.8" fill="none" stroke="#7e7e86" stroke-width="3.2"/>
<path d="M152 197.9h6M1030 197.9h6" stroke="#4a4a4a" stroke-width="2" opacity="0.8"/>
<path d="M152 356.9h6M1030 356.9h6" stroke="#4a4a4a" stroke-width="2" opacity="0.8"/>
<path d="M152 516.0h6M1030 516.0h6" stroke="#4a4a4a" stroke-width="2" opacity="0.8"/>
<path d="M152 675.0h6M1030 675.0h6" stroke="#4a4a4a" stroke-width="2" opacity="0.8"/>
<rect x="1077.6" y="38.6" width="896.8" height="794.8" fill="none" stroke="#7e7e86" stroke-width="3.2"/>
<path d="M1078 197.8h6M1968 197.8h6" stroke="#4a4a4a" stroke-width="2" opacity="0.8"/>
<path d="M1078 356.6h6M1968 356.6h6" stroke="#4a4a4a" stroke-width="2" opacity="0.8"/>
<path d="M1078 515.4h6M1968 515.4h6" stroke="#4a4a4a" stroke-width="2" opacity="0.8"/>
<path d="M1078 674.2h6M1968 674.2h6" stroke="#4a4a4a" stroke-width="2" opacity="0.8"/>
<rect x="148.6" y="952.6" width="883.8" height="785.8" fill="none" stroke="#7e7e86" stroke-width="3.2"/>
<path d="M149 1111.1h6M1026 1111.1h6" stroke="#4a4a4a" stroke-width="2" opacity="0.8"/>
<path d="M149 1267.9h6M1026 1267.9h6" stroke="#4a4a4a" stroke-width="2" opacity="0.8"/>
<path d="M149 1424.7h6M1026 1424.7h6" stroke="#4a4a4a" stroke-width="2" opacity="0.8"/>
<path d="M149 1581.5h6M1026 1581.5h6" stroke="#4a4a4a" stroke-width="2" opacity="0.8"/>
<rect x="1077.6" y="955.6" width="897.8" height="779.8" fill="none" stroke="#7e7e86" stroke-width="3.2"/>
<path d="M1078 1111.8h6M1969 1111.8h6" stroke="#4a4a4a" stroke-width="2" opacity="0.8"/>
<path d="M1078 1267.6h6M1969 1267.6h6" stroke="#4a4a4a" stroke-width="2" opacity="0.8"/>
<path d="M1078 1423.4h6M1969 1423.4h6" stroke="#4a4a4a" stroke-width="2" opacity="0.8"/>
<path d="M1078 1579.2h6M1969 1579.2h6" stroke="#4a4a4a" stroke-width="2" opacity="0.8"/>
<rect x="1998" y="45" width="44" height="760" fill="url(#cbg)"/>
<rect x="1999.25" y="46.25" width="41.5" height="757.5" fill="none" stroke="#707070" stroke-width="2.5"/>
<line x1="2035" y1="172.3" x2="2041" y2="172.3" stroke="#333" stroke-width="2.5"/>
<line x1="2035" y1="298.7" x2="2041" y2="298.7" stroke="#333" stroke-width="2.5"/>
<line x1="2035" y1="425.0" x2="2041" y2="425.0" stroke="#333" stroke-width="2.5"/>
<line x1="2035" y1="551.3" x2="2041" y2="551.3" stroke="#333" stroke-width="2.5"/>
<line x1="2035" y1="677.7" x2="2041" y2="677.7" stroke="#333" stroke-width="2.5"/>
<text class="cb" x="2055.7" y="63.7"><tspan class="mn" dy="5.3">−</tspan><tspan dx="3" dy="-5.3">100</tspan></text>
<text class="cb" x="2055.7" y="189.7"><tspan class="mn" dy="5.3">−</tspan><tspan dx="3" dy="-5.3">120</tspan></text>
<text class="cb" x="2055.7" y="315.7"><tspan class="mn" dy="5.3">−</tspan><tspan dx="3" dy="-5.3">140</tspan></text>
<text class="cb" x="2055.7" y="441.7"><tspan class="mn" dy="5.3">−</tspan><tspan dx="3" dy="-5.3">160</tspan></text>
<text class="cb" x="2055.7" y="567.7"><tspan class="mn" dy="5.3">−</tspan><tspan dx="3" dy="-5.3">180</tspan></text>
<text class="cb" x="2055.7" y="693.7"><tspan class="mn" dy="5.3">−</tspan><tspan dx="3" dy="-5.3">200</tspan></text>
<text class="cb" x="2055.7" y="819.7"><tspan class="mn" dy="5.3">−</tspan><tspan dx="3" dy="-5.3">220</tspan></text>
<rect x="2000" y="959" width="42" height="761" fill="url(#cbg)"/>
<rect x="2001.25" y="960.25" width="39.5" height="758.5" fill="none" stroke="#707070" stroke-width="2.5"/>
<line x1="2035" y1="1086.5" x2="2041" y2="1086.5" stroke="#333" stroke-width="2.5"/>
<line x1="2035" y1="1213.0" x2="2041" y2="1213.0" stroke="#333" stroke-width="2.5"/>
<line x1="2035" y1="1339.5" x2="2041" y2="1339.5" stroke="#333" stroke-width="2.5"/>
<line x1="2035" y1="1466.0" x2="2041" y2="1466.0" stroke="#333" stroke-width="2.5"/>
<line x1="2035" y1="1592.5" x2="2041" y2="1592.5" stroke="#333" stroke-width="2.5"/>
<text class="cb" x="2055.7" y="977.7"><tspan class="mn" dy="5.3">−</tspan><tspan dx="3" dy="-5.3">100</tspan></text>
<text class="cb" x="2055.7" y="1104.2"><tspan class="mn" dy="5.3">−</tspan><tspan dx="3" dy="-5.3">120</tspan></text>
<text class="cb" x="2055.7" y="1230.7"><tspan class="mn" dy="5.3">−</tspan><tspan dx="3" dy="-5.3">140</tspan></text>
<text class="cb" x="2055.7" y="1357.2"><tspan class="mn" dy="5.3">−</tspan><tspan dx="3" dy="-5.3">160</tspan></text>
<text class="cb" x="2055.7" y="1483.7"><tspan class="mn" dy="5.3">−</tspan><tspan dx="3" dy="-5.3">180</tspan></text>
<text class="cb" x="2055.7" y="1610.2"><tspan class="mn" dy="5.3">−</tspan><tspan dx="3" dy="-5.3">200</tspan></text>
<text class="cb" x="2055.7" y="1736.7"><tspan class="mn" dy="5.3">−</tspan><tspan dx="3" dy="-5.3">220</tspan></text>
<text class="tk" x="137.3" y="54.4" text-anchor="end">75</text>
<text class="tk" x="137.3" y="213.4" text-anchor="end">65</text>
<text class="tk" x="137.3" y="372.4" text-anchor="end">55</text>
<text class="tk" x="137.3" y="531.5" text-anchor="end">45</text>
<text class="tk" x="137.3" y="690.5" text-anchor="end">35</text>
<text class="tk" x="137.3" y="849.5" text-anchor="end">25</text>
<text class="tk" x="134.3" y="969.8" text-anchor="end">75</text>
<text class="tk" x="134.3" y="1126.6" text-anchor="end">65</text>
<text class="tk" x="134.3" y="1283.4" text-anchor="end">55</text>
<text class="tk" x="134.3" y="1440.2" text-anchor="end">45</text>
<text class="tk" x="134.3" y="1597.0" text-anchor="end">35</text>
<text class="tk" x="134.3" y="1753.8" text-anchor="end">25</text>
<text class="tk" x="323.2" y="893" text-anchor="middle">50</text>
<text class="tk" x="495.7" y="893" text-anchor="middle">100</text>
<text class="tk" x="668.2" y="893" text-anchor="middle">150</text>
<text class="tk" x="840.7" y="893" text-anchor="middle">200</text>
<text class="tk" x="1013.2" y="893" text-anchor="middle">250</text>
<text class="tk" x="1251.9" y="892" text-anchor="middle">50</text>
<text class="tk" x="1426.9" y="892" text-anchor="middle">100</text>
<text class="tk" x="1601.8" y="892" text-anchor="middle">150</text>
<text class="tk" x="1776.8" y="892" text-anchor="middle">200</text>
<text class="tk" x="1951.7" y="892" text-anchor="middle">250</text>
<text class="tk" x="322.0" y="1797" text-anchor="middle">50</text>
<text class="tk" x="493.9" y="1797" text-anchor="middle">100</text>
<text class="tk" x="665.8" y="1797" text-anchor="middle">150</text>
<text class="tk" x="837.7" y="1797" text-anchor="middle">200</text>
<text class="tk" x="1009.6" y="1797" text-anchor="middle">250</text>
<text class="tk" x="1252.5" y="1794.5" text-anchor="middle">50</text>
<text class="tk" x="1427.6" y="1794.5" text-anchor="middle">100</text>
<text class="tk" x="1602.7" y="1794.5" text-anchor="middle">150</text>
<text class="tk" x="1777.8" y="1794.5" text-anchor="middle">200</text>
<text class="tk" x="1952.9" y="1794.5" text-anchor="middle">250</text>
<text class="al at" x="591.7" y="1866" text-anchor="middle">Time(µs)</text>
<text class="al at" x="1526.4" y="1863.4" text-anchor="middle">Time(µs)</text>
<text class="al" transform="translate(66.4 412) rotate(-90)" text-anchor="middle">Frequency(MHz)</text>
<text class="al" transform="translate(59.6 1337) rotate(-90)" text-anchor="middle">Frequency(MHz)</text>
<text class="cl" transform="translate(2208 423.4) rotate(-90)" text-anchor="middle">10log10((V/m)<tspan font-size="31" dy="-18">2</tspan><tspan dy="18">/Hz)</tspan></text>
<text class="cl" transform="translate(2208 1339.6) rotate(-90)" text-anchor="middle">10log10((V/m)<tspan font-size="31" dy="-18">2</tspan><tspan dy="18">/Hz)</tspan></text>
<text class="pl" x="174" y="128">(a)</text>
<text class="pl" x="1093" y="122">(b)</text>
<text class="pl" x="172.5" y="1041">(c)</text>
<text class="pl" x="1099" y="1042.4">(d)</text>
<text class="tl" x="178" y="806">TISP</text>
<text class="tl" x="1098" y="814.4">TIPP</text>
<text class="tl" x="178" y="1713">TISP</text>
<text class="tl" x="1098" y="1719.3">TIPP</text>
<text class="tl pi" x="1357" y="1218.3">pulse interval</text>
<line x1="1405" y1="1245.5" x2="1405" y2="1527" stroke="#000" stroke-width="5.5" stroke-dasharray="24 18.6"/>
<line x1="1620.5" y1="1245.5" x2="1620.5" y2="1527" stroke="#000" stroke-width="5.5" stroke-dasharray="24 18.6"/>
<line x1="1405" y1="1282" x2="1478" y2="1282" stroke="#000" stroke-width="5.5"/>
<polygon points="1476,1273 1494,1282 1476,1291.5" fill="#000"/>
<line x1="1548" y1="1282" x2="1620.5" y2="1282" stroke="#000" stroke-width="5.5"/>
<polygon points="1550,1273 1532,1282 1550,1291.5" fill="#000"/>
</svg>
</body></html>
